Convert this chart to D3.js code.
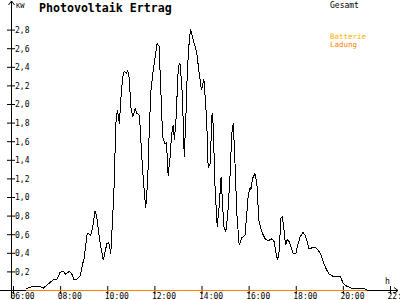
<!DOCTYPE html>
<html>
<head>
<meta charset="utf-8">
<script src="https://cdn.jsdelivr.net/npm/d3@7"></script>
<style>
  body { margin: 0; background: #fff; }
  svg { display: block; }
  text { font-family: "DejaVu Sans Mono", monospace; }
</style>
</head>
<body>
<div id="chart"></div>
<script>
// Gesamt (kW)
var times = ["06:33","06:43","06:56","07:09","07:17","07:26","07:34","07:43","07:51","08:00",
  "08:08","08:14","08:23","08:30","08:35","08:44","08:51","08:58","09:01","09:09",
  "09:18","09:23","09:29","09:33","09:42","09:50","09:59","10:04","10:09","10:13",
  "10:17","10:20","10:22","10:26","10:31","10:34","10:39","10:43","10:48","10:52",
  "10:56","11:00","11:05","11:11","11:15","11:22","11:28","11:32","11:38","11:43",
  "11:47","11:51","11:56","12:02","12:07","12:12","12:16","12:21","12:27","12:31",
  "12:35","12:40","12:44","12:48","12:51","12:55","13:01","13:05","13:10","13:14",
  "13:16","13:20","13:24","13:29","13:32","13:39","13:48","13:54","14:00","14:06",
  "14:13","14:17","14:22","14:27","14:30","14:34","14:40","14:45","14:50","14:53",
  "14:57","15:02","15:07","15:13","15:17","15:21","15:25","15:30","15:36","15:42",
  "15:51","15:59","16:04","16:06","16:10","16:16","16:21","16:26","16:33","16:42",
  "16:50","16:59","17:05","17:10","17:14","17:18","17:22","17:26","17:30","17:34",
  "17:38","17:43","17:47","17:54","18:00","18:05","18:11","18:18","18:24","18:29",
  "18:34","18:39","18:45","18:52","18:57","19:04","19:10","19:17","19:25","19:34",
  "19:42","19:48","19:53","20:01","20:10","20:22","20:52","21:01"];
var gesamt = [0.01,0.03,0.04,0.04,0.02,0.05,0.08,0.11,0.11,0.19,
  0.20,0.17,0.20,0.17,0.11,0.12,0.15,0.29,0.34,0.61,
  0.59,0.68,0.85,0.79,0.50,0.32,0.50,0.51,0.39,0.72,
  1.06,1.51,1.79,1.94,1.79,2.02,2.28,2.35,2.33,2.36,
  2.28,1.97,1.86,1.95,1.90,1.88,1.43,1.18,0.88,1.18,
  1.72,2.13,2.33,2.51,2.65,2.62,2.19,1.65,1.57,1.58,
  1.23,1.43,1.68,1.77,1.61,1.83,2.40,2.44,2.19,1.76,
  1.43,1.83,2.37,2.69,2.80,2.69,2.55,2.33,2.15,2.27,
  1.85,1.31,1.36,1.90,1.76,1.15,0.68,0.90,1.22,0.97,
  0.68,0.63,0.82,1.25,1.68,1.79,1.40,0.82,0.48,0.56,
  0.59,1.02,1.11,1.08,1.20,1.25,1.15,0.75,0.63,0.55,
  0.53,0.55,0.52,0.39,0.32,0.43,0.77,0.79,0.65,0.48,
  0.54,0.52,0.47,0.39,0.39,0.48,0.57,0.62,0.59,0.52,
  0.44,0.45,0.46,0.45,0.43,0.38,0.30,0.23,0.17,0.15,
  0.14,0.15,0.15,0.07,0.04,0.02,0.02,0.00];

// Batterie Ladung (kW)
var ladungTimes = ["06:33","21:01"];
var ladung = [0, 0];

var xTicks = [6, 8, 10, 12, 14, 16, 18, 20, 22];
var yTicks = [0.2, 0.4, 0.6, 0.8, 1.0, 1.2, 1.4, 1.6, 1.8, 2.0, 2.2, 2.4, 2.6, 2.8];

var width = 400, height = 300;

function hours(t) {
  var p = t.split(':');
  return +p[0] + p[1] / 60;
}

var svg = d3.select('#chart').append('svg')
  .attr('width', width)
  .attr('height', height);

var x = d3.scaleLinear().domain([6, 22]).range([13, 390]);
var y = d3.scaleLinear().domain([0, 2.8]).range([290, 29.6]);

// axis lines with arrows
svg.append('path')
  .attr('d', 'M0,290.5H398 M394,287.5L398,290.5L394,293.5')
  .attr('fill', 'none').attr('stroke', '#000');
svg.append('path')
  .attr('d', 'M11.5,298V1 M8.5,5L11.5,1L14.5,5')
  .attr('fill', 'none').attr('stroke', '#000');

var xAxis = d3.axisBottom(x)
  .tickValues(xTicks)
  .tickSize(8)
  .tickPadding(0)
  .tickFormat(d => (d < 10 ? '0' : '') + d + ':00');

var gx = svg.append('g')
  .attr('transform', 'translate(0,286)')
  .call(xAxis);
gx.select('.domain').remove();
gx.selectAll('text')
  .attr('text-anchor', 'start')
  .attr('x', -3)
  .attr('y', 13)
  .attr('dy', 0)
  .style('font-size', '8px')
  .attr('fill', '#000');

var yAxis = d3.axisRight(y)
  .tickValues(yTicks)
  .tickSize(8)
  .tickPadding(0)
  .tickFormat(d => d3.format('.1f')(d).replace('.', ','));

var gy = svg.append('g')
  .attr('transform', 'translate(7,0)')
  .call(yAxis);
gy.select('.domain').remove();
gy.selectAll('text')
  .attr('dy', '0.35em')
  .style('font-size', '8px')
  .attr('fill', '#000');

svg.append('text').attr('x', 16).attr('y', 8)
  .style('font-size', '7px').text('KW');
svg.append('text').attr('x', 385).attr('y', 284)
  .style('font-size', '8px').text('h');

// title and legend
svg.append('text')
  .attr('x', 39).attr('y', 12)
  .style('font-size', '11.6px').style('font-weight', 'bold')
  .text('Photovoltaik Ertrag');
svg.append('text').attr('x', 330).attr('y', 7.5)
  .style('font-size', '8px').attr('fill', '#000').text('Gesamt');
svg.append('text').attr('x', 330).attr('y', 38.5)
  .style('font-size', '7.5px').attr('fill', '#ffb000').text('Batterie');
svg.append('text').attr('x', 330).attr('y', 47)
  .style('font-size', '7.5px').attr('fill', '#ff8000').text('Ladung');

var line = d3.line()
  .x(d => x(hours(d[0])))
  .y(d => y(d[1]));

svg.append('path')
  .datum(d3.zip(times, gesamt))
  .attr('d', line)
  .attr('fill', 'none')
  .attr('stroke', '#000')
  .attr('stroke-width', 1)
  .attr('shape-rendering', 'crispEdges');

svg.append('path')
  .datum(d3.zip(ladungTimes, ladung))
  .attr('d', line)
  .attr('transform', 'translate(0,0.5)')
  .attr('fill', 'none')
  .attr('stroke', '#ff8000')
  .attr('stroke-width', 1);
</script>
</body>
</html>
